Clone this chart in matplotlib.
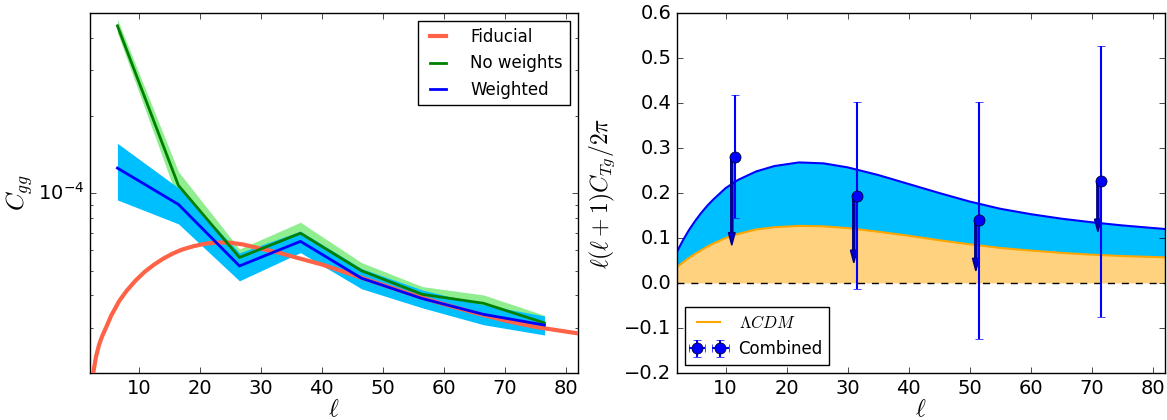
import matplotlib
matplotlib.use("Agg")
import matplotlib.pyplot as plt
import numpy as np

# --- left panel: galaxy auto-spectrum -------------------------------------
ell_bins = [6.5, 16.5, 26.5, 36.5, 46.5, 56.5, 66.5, 76.5]

cgg_noweights = [4.46e-4, 1.07e-4, 5.62e-5, 6.98e-5, 4.99e-5, 4.04e-5, 3.73e-5, 3.13e-5]
cgg_noweights_err = [0.27e-4, 0.14e-4, 0.44e-5, 0.72e-5, 0.38e-5, 0.29e-5, 0.29e-5, 0.22e-5]

cgg_weighted = [1.25e-4, 9.03e-5, 5.21e-5, 6.49e-5, 4.67e-5, 3.89e-5, 3.38e-5, 3.07e-5]
cgg_weighted_err = [0.31e-4, 1.44e-5, 0.65e-5, 0.62e-5, 0.42e-5, 0.31e-5, 0.30e-5, 0.26e-5]

ell_fid = [2.2, 3.0, 3.5, 4.0, 4.6, 5.5, 6.8, 8.0, 9.5, 11, 12.5, 14, 15.5, 17, 19,
           21, 23, 25, 27, 30, 33, 36, 40, 45, 50, 55, 60, 65, 70, 75, 82]
cgg_fid = [1.8e-5, 2.32e-5, 2.58e-5, 2.78e-5, 2.99e-5, 3.35e-5, 3.81e-5, 4.17e-5,
           4.58e-5, 4.95e-5, 5.27e-5, 5.56e-5, 5.81e-5, 6.02e-5, 6.22e-5, 6.36e-5,
           6.43e-5, 6.41e-5, 6.32e-5, 6.08e-5, 5.86e-5, 5.6e-5, 5.28e-5, 4.82e-5,
           4.4e-5, 4.02e-5, 3.7e-5, 3.43e-5, 3.2e-5, 3.02e-5, 2.85e-5]

# --- right panel: temperature-galaxy cross-spectrum ------------------------
ell_th = [2, 3, 4, 5, 6, 7, 8, 10, 12, 15, 18, 22, 26, 30, 35, 40, 45, 50, 55,
          60, 65, 70, 75, 82]
ctg_lcdm = [0.035, 0.046, 0.056, 0.065, 0.073, 0.081, 0.088, 0.100, 0.109, 0.119,
            0.124, 0.127, 0.126, 0.122, 0.114, 0.105, 0.095, 0.086, 0.078, 0.072,
            0.067, 0.063, 0.060, 0.057]
ctg_upper = [0.069, 0.095, 0.118, 0.138, 0.156, 0.172, 0.186, 0.211, 0.229, 0.248,
             0.260, 0.268, 0.266, 0.257, 0.240, 0.220, 0.200, 0.181, 0.165, 0.153,
             0.143, 0.135, 0.128, 0.120]

ell_pts = [11.5, 31.5, 51.5, 71.5]
ctg_pts = [0.281, 0.194, 0.139, 0.226]
ctg_err = [0.137, 0.208, 0.264, 0.301]
ctg_shifted = [0.084, 0.045, 0.027, 0.114]

plt.style.use("classic")
plt.rcParams["figure.facecolor"] = "white"
plt.rcParams["savefig.facecolor"] = "white"
plt.rcParams["xtick.labelsize"] = 14
plt.rcParams["ytick.labelsize"] = 14
plt.rcParams["lines.dashed_pattern"] = [5, 5]

fig = plt.figure(figsize=(11.67, 4.2), dpi=100)
ax1 = fig.add_axes([0.0771, 0.1119, 0.4182, 0.857])
ax2 = fig.add_axes([0.5800, 0.1119, 0.4183, 0.857])

nw = np.array(cgg_noweights)
nwe = np.array(cgg_noweights_err)
w = np.array(cgg_weighted)
we = np.array(cgg_weighted_err)

ax1.fill_between(ell_bins, nw - nwe, nw + nwe, color="lightgreen", lw=0, zorder=1)
ax1.fill_between(ell_bins, w - we, w + we, color="deepskyblue", lw=0, zorder=2)
ax1.plot(ell_fid, cgg_fid, color="tomato", lw=3, label="Fiducial", zorder=3)
ax1.plot(ell_bins, nw, color="g", lw=2, label="No weights", zorder=4)
ax1.plot(ell_bins, w, color="b", lw=2, label="Weighted", zorder=5)
ax1.set_yscale("log")
ax1.set_xlim(2, 82)
ax1.set_ylim(2e-5, 5e-4)
ax1.set_xlabel(r"$\ell$", fontsize=17, labelpad=0)
ax1.set_ylabel(r"$C_{gg}$", fontsize=18, labelpad=2)
ax1.legend(loc="upper right", fontsize=12, handlelength=1.6, handletextpad=1.15)

lc = np.array(ctg_lcdm)
up = np.array(ctg_upper)
ax2.fill_between(ell_th, 0, lc, color="#ffd280", lw=0)
ax2.fill_between(ell_th, lc, up, color="deepskyblue", lw=0)
ax2.plot(ell_th, up, color="b", lw=1.5)
ax2.plot(ell_th, lc, color="orange", lw=1.5, label=r"$\Lambda CDM$")
ax2.axhline(0, color="k", ls="--", lw=1)
for x, y0, y1 in zip(ell_pts, ctg_pts, ctg_shifted):
    ax2.arrow(x - 0.5, y0, 0, y1 - y0, width=0.35, head_width=1.1, head_length=0.028,
              length_includes_head=True, fc="#0000cc", ec="#000080", lw=1, zorder=4)
ax2.errorbar(ell_pts, ctg_pts, yerr=ctg_err, xerr=0, fmt="o", color="b", mec="k",
             ms=8, ecolor="b", elinewidth=1.5, capsize=3, label="Combined", zorder=5)
ax2.set_xlim(2, 82)
ax2.set_ylim(-0.2, 0.6)
ax2.set_xlabel(r"$\ell$", fontsize=17, labelpad=0)
ax2.set_ylabel(r"$\ell(\ell+1)C_{Tg}/2\pi$", fontsize=17)
ax2.legend(loc="lower left", fontsize=12)

fig.savefig("out.png", dpi=100)
